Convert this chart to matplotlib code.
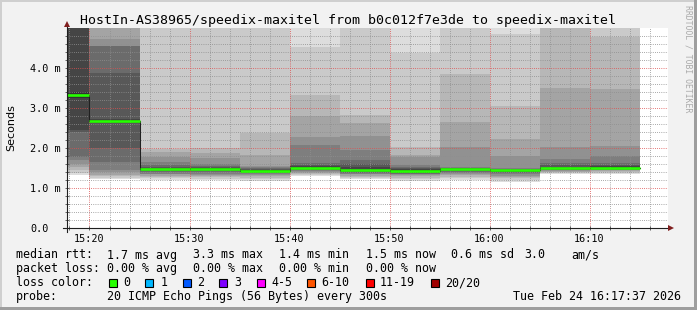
import matplotlib
matplotlib.use("Agg")
import matplotlib.pyplot as plt
from matplotlib.patches import Rectangle
import numpy as np

W, H, DPI = 697, 310, 100

# ---------------- data ----------------
title = "HostIn-AS38965/speedix-maxitel from b0c012f7e3de to speedix-maxitel"
col_start = [15, 20, 25, 30, 35, 40, 45, 50, 55, 60, 65, 70]   # minutes after 15:00
col_width = 5
medians = [3.33, 2.67, 1.47, 1.48, 1.43, 1.51, 1.45, 1.43, 1.475, 1.44, 1.50, 1.51]

# 20 pings per 5-minute step (ms)
p_1515 = [1.32, 1.38, 1.44, 1.52, 1.61, 1.70, 1.78, 2.40, 2.44, 3.26, 3.40, 5.5, 5.6, 5.8, 6.0, 6.5, 7.0, 7.5, 8.0, 9.0]
p_1520 = [1.23, 1.26, 1.30, 1.33, 1.40, 1.44, 1.65, 2.00, 2.62, 2.64, 2.70, 2.72, 3.88, 4.55, 4.56, 4.73, 5.5, 6.0, 7.0, 8.0]
p_1525 = [1.19, 1.24, 1.28, 1.31, 1.34, 1.36, 1.40, 1.42, 1.44, 1.46, 1.48, 1.50, 1.53, 1.57, 1.65, 1.78, 1.90, 1.97, 6.0, 8.0]
p_1530 = [1.20, 1.23, 1.27, 1.30, 1.33, 1.36, 1.39, 1.42, 1.45, 1.47, 1.49, 1.51, 1.53, 1.56, 1.60, 1.74, 1.88, 2.00, 6.0, 7.0]
p_1535 = [1.18, 1.22, 1.26, 1.29, 1.32, 1.35, 1.38, 1.40, 1.42, 1.43, 1.44, 1.46, 1.48, 1.50, 1.53, 1.55, 1.83, 2.38, 6.0, 7.0]
p_1540 = [1.31, 1.33, 1.36, 1.38, 1.40, 1.42, 1.44, 1.46, 1.48, 1.50, 1.52, 1.54, 1.57, 1.62, 2.08, 2.28, 2.80, 3.33, 4.53, 6.0]
p_1545 = [1.22, 1.25, 1.28, 1.31, 1.34, 1.36, 1.38, 1.40, 1.42, 1.44, 1.47, 1.52, 1.60, 1.70, 1.95, 2.30, 2.62, 2.83, 6.0, 7.0]
p_1550 = [1.18, 1.22, 1.26, 1.29, 1.32, 1.34, 1.36, 1.38, 1.40, 1.42, 1.44, 1.47, 1.50, 1.53, 1.58, 1.77, 1.83, 2.03, 4.37, 6.0]
p_1555 = [1.20, 1.24, 1.28, 1.32, 1.35, 1.38, 1.41, 1.43, 1.45, 1.47, 1.48, 1.49, 1.50, 1.51, 1.53, 2.03, 2.66, 3.85, 6.0, 7.0]
p_1600 = [1.16, 1.20, 1.24, 1.28, 1.31, 1.34, 1.37, 1.39, 1.41, 1.43, 1.45, 1.46, 1.47, 1.48, 1.50, 1.80, 2.22, 3.05, 4.85, 6.0]
p_1605 = [1.35, 1.37, 1.39, 1.41, 1.43, 1.44, 1.45, 1.46, 1.47, 1.49, 1.51, 1.53, 1.57, 1.62, 1.72, 2.03, 3.49, 6.0, 7.0, 8.0]
p_1610 = [1.35, 1.38, 1.40, 1.42, 1.44, 1.45, 1.46, 1.47, 1.48, 1.50, 1.52, 1.54, 1.57, 1.62, 1.80, 2.05, 3.48, 4.77, 6.0, 8.0]
ping_columns = [p_1515, p_1520, p_1525, p_1530, p_1535, p_1540,
                p_1545, p_1550, p_1555, p_1600, p_1605, p_1610]

x_major = [20, 30, 40, 50, 60, 70]
x_labels = ["15:20", "15:30", "15:40", "15:50", "16:00", "16:10"]
y_major = [0, 1, 2, 3, 4]
y_labels = ["0.0", "1.0 m", "2.0 m", "3.0 m", "4.0 m"]

rtt_stats = ["1.7 ms avg", "3.3 ms max", "1.4 ms min", "1.5 ms now", "0.6 ms sd", "3.0", "am/s"]
loss_stats = ["0.00 % avg", "0.00 % max", "0.00 % min", "0.00 % now"]
loss_labels = ["0", "1", "2", "3", "4-5", "6-10", "11-19", "20/20"]
loss_colors = ["#26ff00", "#00b8ff", "#0059ff", "#7e00ff", "#ff00ff", "#ff5500", "#ff0000", "#a10000"]
probe_text = "20 ICMP Echo Pings (56 Bytes) every 300s"
stamp_text = "Tue Feb 24 16:17:37 2026"

# ---------------- figure ----------------
BACK = (0.95, 0.95, 0.95)
fig = plt.figure(figsize=(W / DPI, H / DPI), dpi=DPI, facecolor=BACK)

L, R, T, B = 67, 668, 28, 228
ax = fig.add_axes([L / W, 1 - B / H, (R - L) / W, (B - T) / H])
ax.set_facecolor("white")
ax.set_xlim(17.75, 77.85)
ax.set_ylim(0, 5)
for s in ax.spines.values():
    s.set_visible(False)

# smoke
sorted_cols = [sorted(p) for p in ping_columns]
npings = 20
half = npings // 2
for ibot in range(1, half + 1):
    itop = npings + 1 - ibot
    c = int(190 / half * (half - ibot)) + 50
    col = "#%02x%02x%02x" % (c, c, c)
    lo = np.array([sc[ibot - 1] for sc in sorted_cols])
    hi = np.array([sc[itop - 1] for sc in sorted_cols])
    ax.bar(col_start, hi - lo, bottom=lo, width=col_width, align="edge",
           color=col, linewidth=0, zorder=1, antialiased=False)

# median line
xs = list(col_start) + [col_start[-1] + col_width]
ys = list(medians) + [medians[-1]]
ax.step(xs, ys, where="post", color="#202020", lw=0.75, zorder=2.6)
ax.hlines(medians, col_start, np.array(col_start) + col_width, colors="#26ff00",
          lw=1.9, zorder=3)

# grid and ticks
ax.set_xticks(x_major, labels=x_labels)
ax.set_xticks([t for t in range(18, 77, 2) if t not in x_major], minor=True)
ax.set_yticks(y_major, labels=y_labels)
ax.set_yticks([v / 10 for v in range(2, 50, 2) if v % 10 != 0], minor=True)
ax.set_axisbelow(False)
DOTS = (0, (0.72, 1.44))
ax.grid(which="major", color=(0.87, 0.31, 0.31, 0.32), linestyle=DOTS, lw=0.72)
ax.grid(which="minor", color=(0.56, 0.56, 0.56, 0.32), linestyle=DOTS, lw=0.72)
AX = (0.12, 0.12, 0.12)
ax.tick_params(axis="both", which="both", direction="inout", length=2.2, width=0.6,
               color=(0.3, 0.3, 0.3))
ax.tick_params(axis="x", which="major", pad=3.4, labelsize=7.3)
ax.tick_params(axis="y", which="major", pad=26.6 - 1.1, labelsize=7.3)
for lab in ax.get_xticklabels():
    lab.set_fontfamily("DejaVu Sans Mono")
for lab in ax.get_yticklabels():
    lab.set_fontfamily("DejaVu Sans Mono")
    lab.set_horizontalalignment("left")

# axes lines with arrows
def axx(px):
    return (px - L) / (R - L)

def axy(py):
    return (B - py) / (B - T)

ax.plot([axx(63), axx(670)], [0, 0], transform=ax.transAxes, color=AX, lw=0.8,
        clip_on=False, zorder=4)
ax.plot([0, 0], [axy(232), axy(25)], transform=ax.transAxes, color=AX, lw=0.8,
        clip_on=False, zorder=4)
ARROW = (0.5, 0.12, 0.12)
ax.plot([axx(671)], [0], marker=">", ms=4.2, color=ARROW, transform=ax.transAxes,
        clip_on=False, zorder=5, markeredgewidth=0)
ax.plot([0], [axy(24)], marker="^", ms=4.2, color=ARROW, transform=ax.transAxes,
        clip_on=False, zorder=5, markeredgewidth=0)

# ---------------- texts ----------------
MONO = "DejaVu Sans Mono"

def ftext(px, py, s, **kw):
    kw.setdefault("family", MONO)
    kw.setdefault("fontsize", 8.35)
    fig.text(px / W, 1 - py / H, s, **kw)

ftext(348, 24, title, fontsize=9.5, ha="center", va="baseline")
ftext(11, 128, "Seconds", family="DejaVu Sans", fontsize=8, rotation=90,
      ha="center", va="center")
ftext(688, 5, "RRDTOOL / TOBI OETIKER", fontsize=5.9, rotation=270,
      ha="center", va="top", color="#aaaaaa")

rows = [258.5, 272.4, 286.3, 300.1]
ftext(15.5, rows[0], "median rtt:", va="baseline")
for s, x in zip(rtt_stats, [107, 193, 279, 365.7, 451.4, 524.7, 571.4]):
    ftext(x, rows[0], s, va="baseline")
ftext(15.5, rows[1], "packet loss:", va="baseline")
for s, x in zip(loss_stats, [107, 193, 279, 365.7]):
    ftext(x, rows[1], s, va="baseline")
ftext(15.5, rows[2], "loss color:", va="baseline")
box_x = [108.7, 145.3, 182.7, 219.3, 256.7, 307.3, 366, 430.7]
lab_x = [123, 160.4, 197, 234.4, 271, 321.7, 379.7, 444.7]
for c, s, bx, lx in zip(loss_colors, loss_labels, box_x, lab_x):
    fig.add_artist(Rectangle((bx / W, 1 - 286.7 / H), 8 / W, 8 / H,
                             transform=fig.transFigure, facecolor=c,
                             edgecolor="black", lw=0.8))
    ftext(lx, rows[2], s, va="baseline")
ftext(15.5, rows[3], "probe:", va="baseline")
ftext(107, rows[3], probe_text, va="baseline")
ftext(513, rows[3], stamp_text, va="baseline")

# 3D frame
def frame_rect(x, y, w, h, color):
    fig.add_artist(Rectangle((x / W, 1 - (y + h) / H), w / W, h / H,
                             transform=fig.transFigure, facecolor=color,
                             edgecolor="none", lw=0))

frame_rect(0, 0, W, 2, "#cfcfcf")
frame_rect(0, 0, 2, H, "#cfcfcf")
frame_rect(W - 3, 0, 3, H, "#9e9e9e")
frame_rect(0, H - 3, W, 3, "#9e9e9e")

fig.savefig("out.png", dpi=DPI, facecolor=BACK)
